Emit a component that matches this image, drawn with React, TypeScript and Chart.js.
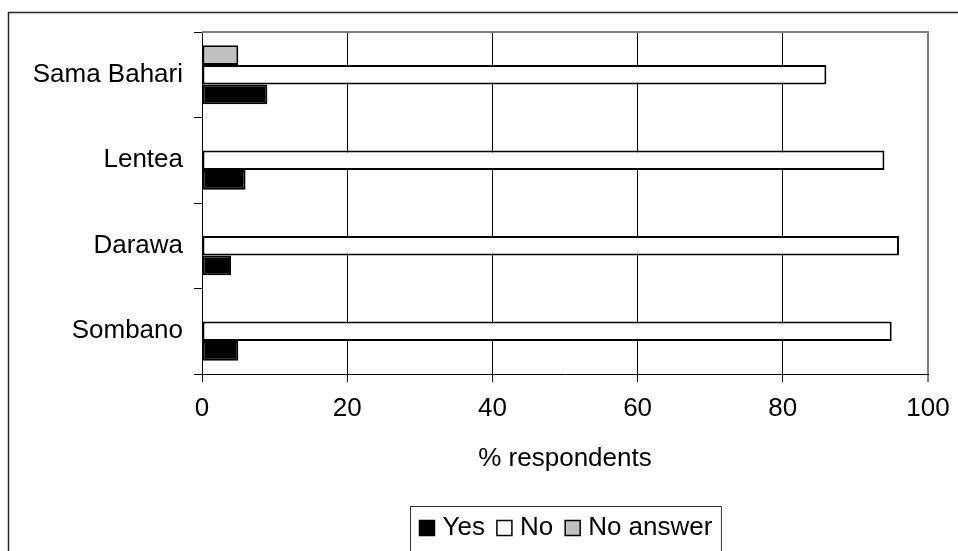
import { useEffect, useRef } from "react";
import { Chart, registerables } from "chart.js";

Chart.register(...registerables);

// Survey answers per village (% of respondents)
const villages = ["Sama Bahari", "Lentea", "Darawa", "Sombano"];
const yesPct = [9, 6, 4, 5];
const noPct = [86, 94, 96, 95];
const noAnswerPct: (number | null)[] = [5, null, null, null];
const seriesNames = ["Yes", "No", "No answer"];
const seriesColors = ["#000000", "#ffffff", "#c0c0c0"];
const xMin = 0;
const xMax = 100;
const xStep = 20;
const xTitle = "% respondents";

const FONT = "'Liberation Sans', Arial, Helvetica, sans-serif";
const FONT_SIZE = 26;

// Frame, plot-area top edge and a boxed legend
const decorPlugin = {
  id: "decor",
  beforeDraw(chart: any) {
    const { ctx, width, height } = chart;
    ctx.save();
    ctx.fillStyle = "#ffffff";
    ctx.fillRect(0, 0, width, height);
    ctx.restore();
  },
  afterDraw(chart: any) {
    const { ctx, width, height, chartArea } = chart;
    ctx.save();

    // outer frame (left and top edges)
    ctx.strokeStyle = "#262626";
    ctx.lineWidth = 1.5;
    ctx.beginPath();
    ctx.moveTo(8.5, height + 4);
    ctx.lineTo(8.5, 12.5);
    ctx.lineTo(width + 4, 12.5);
    ctx.stroke();

    // plot area top edge
    ctx.strokeStyle = "#808080";
    ctx.lineWidth = 2;
    ctx.beginPath();
    ctx.moveTo(chartArea.left, chartArea.top);
    ctx.lineTo(chartArea.right + 1, chartArea.top);
    ctx.stroke();

    // legend: Yes, No, No answer
    ctx.font = `${FONT_SIZE}px ${FONT}`;
    ctx.textBaseline = "middle";
    ctx.textAlign = "left";
    const sq = 15;
    const gapText = 8;
    const gapItem = 12;
    const pad = 9;
    const ds = chart.data.datasets.slice().reverse();
    const widths = ds.map((d: any) => ctx.measureText(d.label).width);
    let total = pad * 2;
    widths.forEach((w: number, i: number) => {
      total += sq + gapText + w + (i < widths.length - 1 ? gapItem : 0);
    });
    const cx = (chartArea.left + chartArea.right) / 2;
    const boxLeft = Math.round(cx - total / 2) + 0.5;
    const boxTop = 506.5;
    ctx.strokeStyle = "#333333";
    ctx.lineWidth = 1;
    ctx.strokeRect(boxLeft, boxTop, total, 50);

    const midY = 528;
    let x = boxLeft + pad;
    ds.forEach((d: any, i: number) => {
      ctx.fillStyle = d.backgroundColor;
      ctx.fillRect(x, midY - sq / 2, sq, sq);
      ctx.strokeStyle = "#000000";
      ctx.lineWidth = 1.5;
      ctx.strokeRect(x, midY - sq / 2, sq, sq);
      x += sq + gapText;
      ctx.fillStyle = "#000000";
      ctx.fillText(d.label, x, midY);
      x += widths[i] + gapItem;
    });

    ctx.restore();
  },
};

export default function App() {
  const canvasRef = useRef<HTMLCanvasElement | null>(null);

  useEffect(() => {
    const canvas = canvasRef.current;
    if (!canvas) return;

    Chart.defaults.font.family = FONT;
    Chart.defaults.font.size = FONT_SIZE;
    Chart.defaults.color = "#000000";

    // drawn top to bottom inside each village group
    const values = [yesPct, noPct, noAnswerPct];
    const order = [2, 1, 0];
    const datasets = order.map((k) => ({
      label: seriesNames[k],
      data: values[k],
      backgroundColor: seriesColors[k],
      borderColor: "#000000",
      borderWidth: 2,
      borderSkipped: false as const,
      categoryPercentage: 0.69,
      barPercentage: 1,
    }));

    const chart = new Chart(canvas, {
      type: "bar",
      data: { labels: villages, datasets },
      plugins: [decorPlugin],
      options: {
        indexAxis: "y",
        animation: false,
        responsive: false,
        devicePixelRatio: 1,
        layout: { padding: { left: 0, right: 30, top: 32, bottom: 77 } },
        plugins: {
          legend: { display: false },
          tooltip: { enabled: false },
        },
        scales: {
          x: {
            type: "linear",
            min: xMin,
            max: xMax,
            ticks: {
              stepSize: xStep,
              padding: 11,
              color: "#000000",
              font: { size: FONT_SIZE, family: FONT },
            },
            grid: {
              color: (c: any) => (c.tick && c.tick.value === xMax ? "#808080" : "#000000"),
              lineWidth: (c: any) => (c.tick && c.tick.value === xMax ? 2 : 1),
              tickLength: 8,
              drawTicks: true,
              tickColor: "#000000",
              tickWidth: 1,
            },
            border: { display: true, color: "#000000", width: 1 },
            title: {
              display: true,
              text: xTitle,
              color: "#000000",
              font: { size: FONT_SIZE, family: FONT },
              padding: { top: 0, bottom: 0 },
            },
            afterFit: (scale: any) => {
              scale.height = 100;
              scale.paddingLeft = 0;
              scale.paddingRight = 0;
            },
          },
          y: {
            type: "category",
            ticks: {
              padding: 11,
              color: "#000000",
              font: { size: FONT_SIZE, family: FONT },
            },
            grid: {
              offset: true,
              drawOnChartArea: false,
              drawTicks: true,
              tickLength: 8,
              color: "#000000",
            },
            border: { display: true, color: "#000000", width: 1 },
            afterFit: (scale: any) => {
              scale.width = 202;
              scale.paddingTop = 0;
              scale.paddingBottom = 0;
            },
          },
        },
      },
    });

    return () => chart.destroy();
  }, []);

  return (
    <canvas
      ref={canvasRef}
      width={958}
      height={551}
      style={{ position: "fixed", left: 0, top: 0, width: 958, height: 551 }}
    />
  );
}
